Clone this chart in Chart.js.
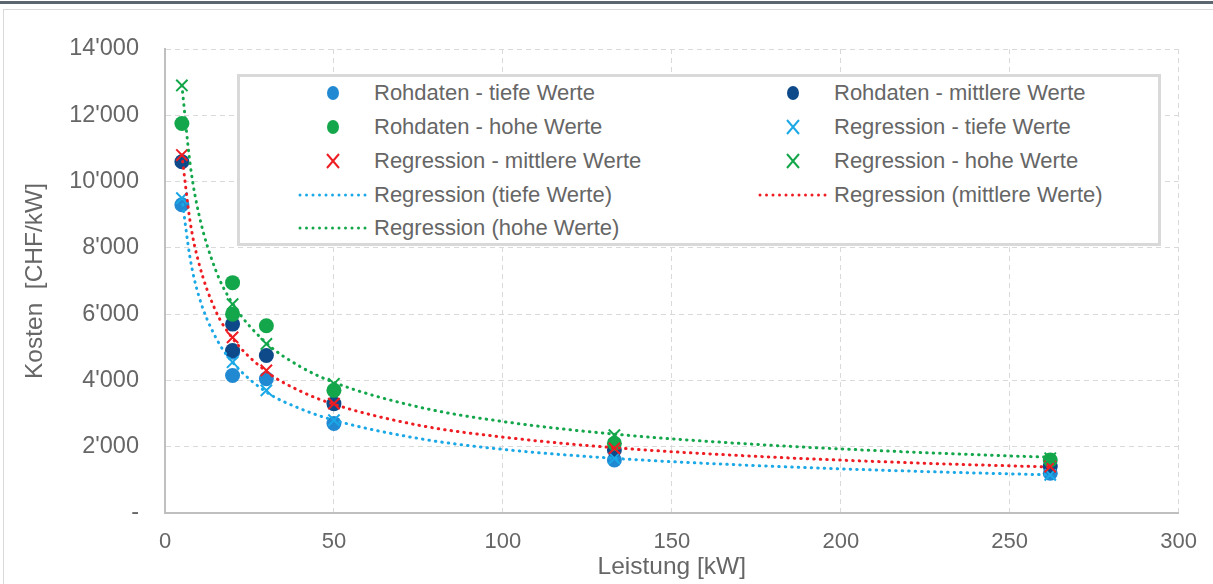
<!DOCTYPE html>
<html>
<head>
<meta charset="utf-8">
<script src="https://cdn.jsdelivr.net/npm/chart.js@4.4.1/dist/chart.umd.min.js"></script>
<style>
    html, body { margin: 0; padding: 0; background: #fff; }
    body { width: 1213px; height: 584px; position: relative; overflow: hidden; font-family: "Liberation Sans", Arial, sans-serif; }
    .topbar { position: absolute; left: 0; top: 1px; width: 1213px; height: 3px; background: #5b6670; }
    .frame { position: absolute; left: 3px; top: 9px; width: 1220px; height: 600px; border: 1px solid #d9d9d9; box-sizing: border-box; }
    #c { position: absolute; left: 0; top: 0; }
    #legend { position: absolute; left: 237px; top: 74px; width: 924px; height: 172px; border: 3px solid #d9d9d9; box-sizing: border-box; background: #fff; }
    .item { position: absolute; height: 30px; display: flex; align-items: center; font-size: 22px; color: #666; white-space: nowrap; }
    .item svg { width: 70px; height: 30px; margin-right: 6px; flex: none; }
</style>
</head>
<body>
<div class="topbar"></div>
<div class="frame"></div>
<canvas id="c" width="1213" height="584"></canvas>
<div id="legend"></div>
<script>
// Leistung [kW] of the measured installations
const rawX = [5, 20, 20, 30, 50, 133, 262];
const rawLow = [9300, 4850, 4150, 4050, 2700, 1600, 1200];
const rawMid = [10600, 5700, 4900, 4750, 3300, 1900, 1400];
const rawHigh = [11750, 6950, 6000, 5650, 3700, 2100, 1600];

// regression values at the distinct sizes
const regX = [5, 20, 30, 50, 133, 262];
const regLow = [9500, 4550, 3700, 2800, 1650, 1150];
const regMid = [10800, 5300, 4300, 3300, 1950, 1400];
const regHigh = [12900, 6300, 5100, 3900, 2350, 1650];

// dotted trend curves
const curveX = [5, 7.5, 10, 15, 20, 30, 40, 50, 75, 100, 133, 175, 225, 262];
const curveLow = [9500, 7650, 6550, 5300, 4550, 3650, 3150, 2800, 2250, 1920, 1650, 1430, 1250, 1150];
const curveMid = [10800, 8750, 7550, 6100, 5270, 4270, 3680, 3280, 2650, 2290, 1970, 1710, 1500, 1390];
const curveHigh = [12900, 10480, 9030, 7330, 6320, 5130, 4420, 3940, 3200, 2760, 2380, 2070, 1820, 1680];

const yTicks = [0, 2000, 4000, 6000, 8000, 10000, 12000, 14000];

const LIGHT_BLUE = '#2189d2';
const NAVY = '#0e4a8a';
const GREEN = '#13a64a';
const CYAN = '#1ba8e6';
const RED = '#ee1d23';

function pts(xs, ys) {
    return xs.map((x, i) => ({ x: x, y: ys[i] }));
}

function dots(label, xs, ys, color) {
    return { label, data: pts(xs, ys), kind: 'dot', backgroundColor: color, borderColor: color,
        pointStyle: 'circle', pointRadius: 7.5, borderWidth: 0, showLine: false };
}

function crosses(label, xs, ys, color) {
    return { label, data: pts(xs, ys), kind: 'cross', backgroundColor: color, borderColor: color,
        pointStyle: 'crossRot', pointRadius: 8, borderWidth: 2, showLine: false };
}

function curve(label, xs, ys, color) {
    return { label, data: pts(xs, ys), kind: 'line', borderColor: color, backgroundColor: color,
        showLine: true, pointRadius: 0, borderWidth: 3, borderDash: [0.5, 6], borderCapStyle: 'round',
        cubicInterpolationMode: 'monotone', fill: false };
}

const datasets = [
    dots('Rohdaten - tiefe Werte', rawX, rawLow, LIGHT_BLUE),
    dots('Rohdaten - mittlere Werte', rawX, rawMid, NAVY),
    dots('Rohdaten - hohe Werte', rawX, rawHigh, GREEN),
    crosses('Regression - tiefe Werte', regX, regLow, CYAN),
    crosses('Regression - mittlere Werte', regX, regMid, RED),
    crosses('Regression - hohe Werte', regX, regHigh, GREEN),
    curve('Regression (tiefe Werte)', curveX, curveLow, CYAN),
    curve('Regression (mittlere Werte)', curveX, curveMid, RED),
    curve('Regression (hohe Werte)', curveX, curveHigh, GREEN)
];
// later series on top, like the original
datasets.forEach((d, i) => { d.order = datasets.length - i; });

function fmt(v) {
    if (v === 0) return '-';
    return String(v).replace(/\B(?=(\d{3})+(?!\d))/g, "'");
}

const FAMILY = '"Liberation Sans", Arial, sans-serif';

new Chart(document.getElementById('c'), {
    type: 'scatter',
    data: { datasets },
    options: {
        responsive: false,
        animation: false,
        devicePixelRatio: 1,
        layout: { padding: { left: 10, top: 49, right: 33, bottom: 2 } },
        plugins: { legend: { display: false }, tooltip: { enabled: false } },
        scales: {
            x: {
                type: 'linear', min: 0, max: 300,
                afterFit: (s) => { s.height = 69; },
                ticks: { stepSize: 50, color: '#666', font: { family: FAMILY, size: 22 }, padding: 16, maxRotation: 0 },
                grid: { color: '#d9d9d9', lineWidth: 1, drawTicks: false },
                border: { display: true, color: '#bfbfbf', width: 2, dash: [5, 4] },
                title: { display: true, text: 'Leistung [kW]', color: '#666', font: { family: FAMILY, size: 24.5 }, padding: { top: 0, bottom: 0 } }
            },
            y: {
                type: 'linear', min: 0, max: 14000,
                afterFit: (s) => { s.width = 155; },
                afterBuildTicks: (s) => { s.ticks = yTicks.map(v => ({ value: v })); },
                ticks: { color: '#666', font: { family: FAMILY, size: 23.5 }, padding: 26, callback: (v) => fmt(v) },
                grid: { color: '#d9d9d9', lineWidth: 1, drawTicks: false },
                border: { display: true, color: '#bfbfbf', width: 2, dash: [5, 4] },
                title: { display: true, text: 'Kosten  [CHF/kW]', color: '#666', font: { family: FAMILY, size: 24.5 }, padding: { top: 11, bottom: 0 } }
            }
        }
    }
});

// legend inside the plot, two columns, same order as the datasets
function markerSvg(d) {
    const c = d.borderColor;
    if (d.kind === 'dot') {
        return `<svg viewBox="0 0 70 30"><ellipse cx="35" cy="15" rx="6" ry="7" fill="${c}"/></svg>`;
    }
    if (d.kind === 'cross') {
        return `<svg viewBox="0 0 70 30"><path d="M29 8 L41 22 M41 8 L29 22" stroke="${c}" stroke-width="2" fill="none"/></svg>`;
    }
    return `<svg viewBox="0 0 70 30"><line x1="2" y1="15" x2="68" y2="15" stroke="${c}" stroke-width="3" stroke-linecap="round" stroke-dasharray="0 6.5"/></svg>`;
}

const legend = document.getElementById('legend');
const rowTops = [1, 35, 69, 103, 136];
const colLefts = [58, 518];
datasets.forEach((d, i) => {
    const el = document.createElement('div');
    el.className = 'item';
    el.style.top = rowTops[Math.floor(i / 2)] + 'px';
    el.style.left = colLefts[i % 2] + 'px';
    el.innerHTML = markerSvg(d) + `<span>${d.label}</span>`;
    legend.appendChild(el);
});
</script>
</body>
</html>
